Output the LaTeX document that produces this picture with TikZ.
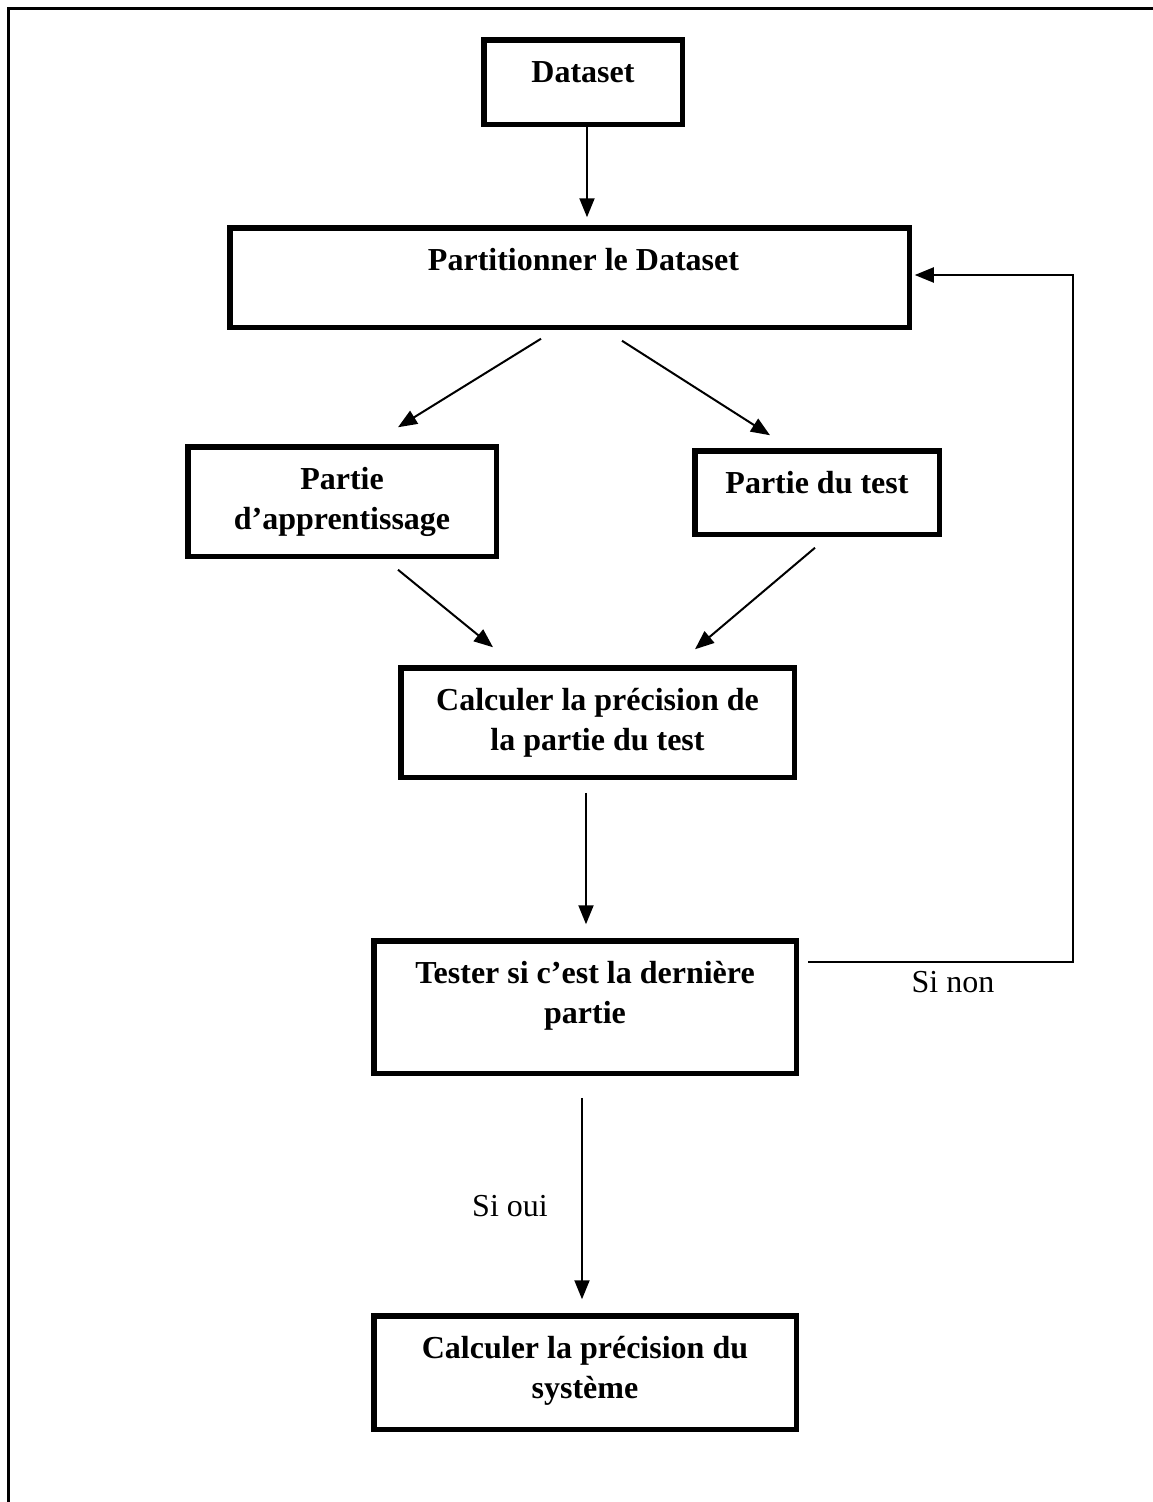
\documentclass[tikz,border=0pt]{standalone}
\usepackage{fontspec}
\setmainfont{Liberation Serif}
\usetikzlibrary{arrows.meta}

% text block with its first baseline at a fixed depth below the top edge
\newcommand{\boxtext}[3]{\parbox[c][#2][t]{#1}{\centering\rule{0pt}{43pt}#3\par}}

\tikzset{
  stepbox/.style={draw, rectangle, line width=5.5pt, inner sep=0pt,
                  font=\fontsize{32}{40}\selectfont\bfseries},
  arr/.style={line width=2pt, -{Triangle[length=19pt,width=15pt]}},
  cond/.style={font=\fontsize{32}{40}\selectfont, anchor=base, inner sep=0pt},
}

\begin{document}
\begin{tikzpicture}[x=1pt,y=-1pt]
\useasboundingbox (0,0) rectangle (1153,1502);

% page frame
\draw[line width=3pt] (8,1502) -- (8,8) -- (1153,8);

% steps
\node[stepbox] (data)   at (583,82)     {\boxtext{198.5pt}{84.5pt}{Dataset}};
\node[stepbox] (part)   at (569.5,277.5) {\boxtext{679.5pt}{99.5pt}{\hspace*{28pt}Partitionner le Dataset}};
\node[stepbox] (app)    at (342,501.5)   {\boxtext{308.5pt}{109.5pt}{Partie\\d’apprentissage}};
\node[stepbox] (test)   at (817,492.5)   {\boxtext{244.5pt}{83.5pt}{Partie du test}};
\node[stepbox] (calc)   at (597.5,722.5) {\boxtext{393.5pt}{109.5pt}{Calculer la précision de\\la partie du test}};
\node[stepbox] (tester) at (585,1007)    {\boxtext{422.5pt}{132.5pt}{Tester si c’est la dernière\\partie}};
\node[stepbox] (sys)    at (585,1372.5)  {\boxtext{422.5pt}{113.5pt}{Calculer la précision du\\système}};

% conditions
\node[cond] (sinon) at (953,992)  {Si non};
\node[cond] (sioui) at (510,1216) {Si oui};

% flow
\draw[arr] ([xshift=4pt]data.south) -- ([xshift=17.5pt,yshift=7.75pt]part.north);
\draw[arr] ([xshift=-28.5pt,yshift=-8.75pt]part.south) -- ([xshift=56pt,yshift=16.75pt]app.north);
\draw[arr] ([xshift=52.5pt,yshift=-10.75pt]part.south) -- ([xshift=-47pt,yshift=12.75pt]test.north);
\draw[arr] ([xshift=56pt,yshift=-10.75pt]app.south) -- ([xshift=-104.5pt,yshift=17.75pt]calc.north);
\draw[arr] ([xshift=-2pt,yshift=-10.75pt]test.south) -- ([xshift=97.5pt,yshift=15.75pt]calc.north);
\draw[arr] ([xshift=-11.5pt,yshift=-12.75pt]calc.south) -- ([xshift=1pt,yshift=13.75pt]tester.north);
\draw[arr] ([xshift=-3pt,yshift=-21.75pt]tester.south) -- ([xshift=-3pt,yshift=13.75pt]sys.north);

% loop back when the last part is not reached yet
\draw[arr] ([xshift=9pt,yshift=45pt]tester.east) -- ++(265,0)
           |- ([xshift=2.75pt,yshift=2.5pt]part.east);
\end{tikzpicture}
\end{document}
